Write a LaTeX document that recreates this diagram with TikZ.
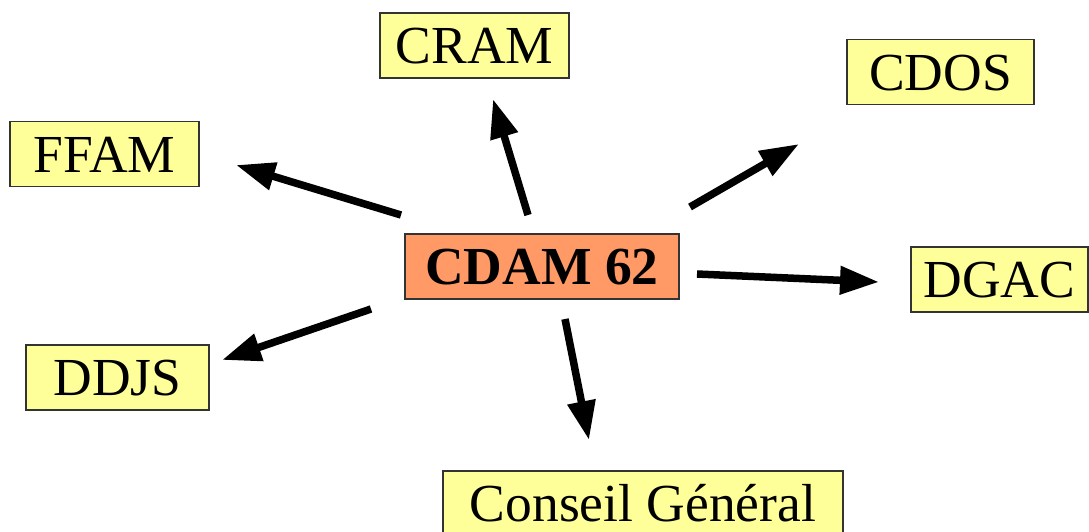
\documentclass[tikz,border=0pt]{standalone}
\usepackage{fontspec}
\setmainfont{Liberation Serif}
\usetikzlibrary{arrows.meta}
\definecolor{boxyellow}{HTML}{FFFF99}
\definecolor{boxorange}{HTML}{FF9966}
\definecolor{boxline}{HTML}{333333}
\tikzset{
  orgbox/.style={draw=boxline, line width=1.2pt, fill=boxyellow, inner sep=0pt,
    text height=36pt, text depth=0pt, minimum height=65pt,
    font=\fontsize{53.5}{62}\selectfont},
  centerbox/.style={orgbox, fill=boxorange, font=\fontsize{53.5}{62}\selectfont\bfseries},
  arr/.style={line width=7.5pt, -{Triangle[length=39pt,width=27pt]}}
}
\begin{document}
\begin{tikzpicture}[x=1pt,y=-1pt]
\useasboundingbox (0,0) rectangle (1089,531);
\clip (0,0) rectangle (1089,531);
\node[orgbox, minimum width=189pt] (cram) at (474.5,45.5) {CRAM};
\node[orgbox, minimum width=187pt] (cdos) at (940.5,72) {CDOS};
\node[orgbox, minimum width=189pt] (ffam) at (104.5,154) {FFAM};
\node[centerbox, minimum width=274pt] (cdam) at (542,266.5) {CDAM 62};
\node[orgbox, minimum width=177pt] (dgac) at (999.5,279.5) {DGAC};
\node[orgbox, minimum width=183pt] (ddjs) at (117.5,377.5) {DDJS};
\node[orgbox, minimum width=400pt] (cg) at (643,503.5) {Conseil Général};
\coordinate (ffamT) at (401,215); \coordinate (ffamH) at (236,165);
\coordinate (cramT) at (528,215); \coordinate (cramH) at (493,99);
\coordinate (cdosT) at (690,207); \coordinate (cdosH) at (799,144);
\coordinate (dgacT) at (697,274); \coordinate (dgacH) at (879,282);
\coordinate (ddjsT) at (371,309); \coordinate (ddjsH) at (222,360);
\coordinate (cgT) at (565,319); \coordinate (cgH) at (589,440);
\draw[arr] (ffamT) -- (ffamH);
\draw[arr] (cramT) -- (cramH);
\draw[arr] (cdosT) -- (cdosH);
\draw[arr] (dgacT) -- (dgacH);
\draw[arr] (ddjsT) -- (ddjsH);
\draw[arr] (cgT) -- (cgH);
\end{tikzpicture}
\end{document}
